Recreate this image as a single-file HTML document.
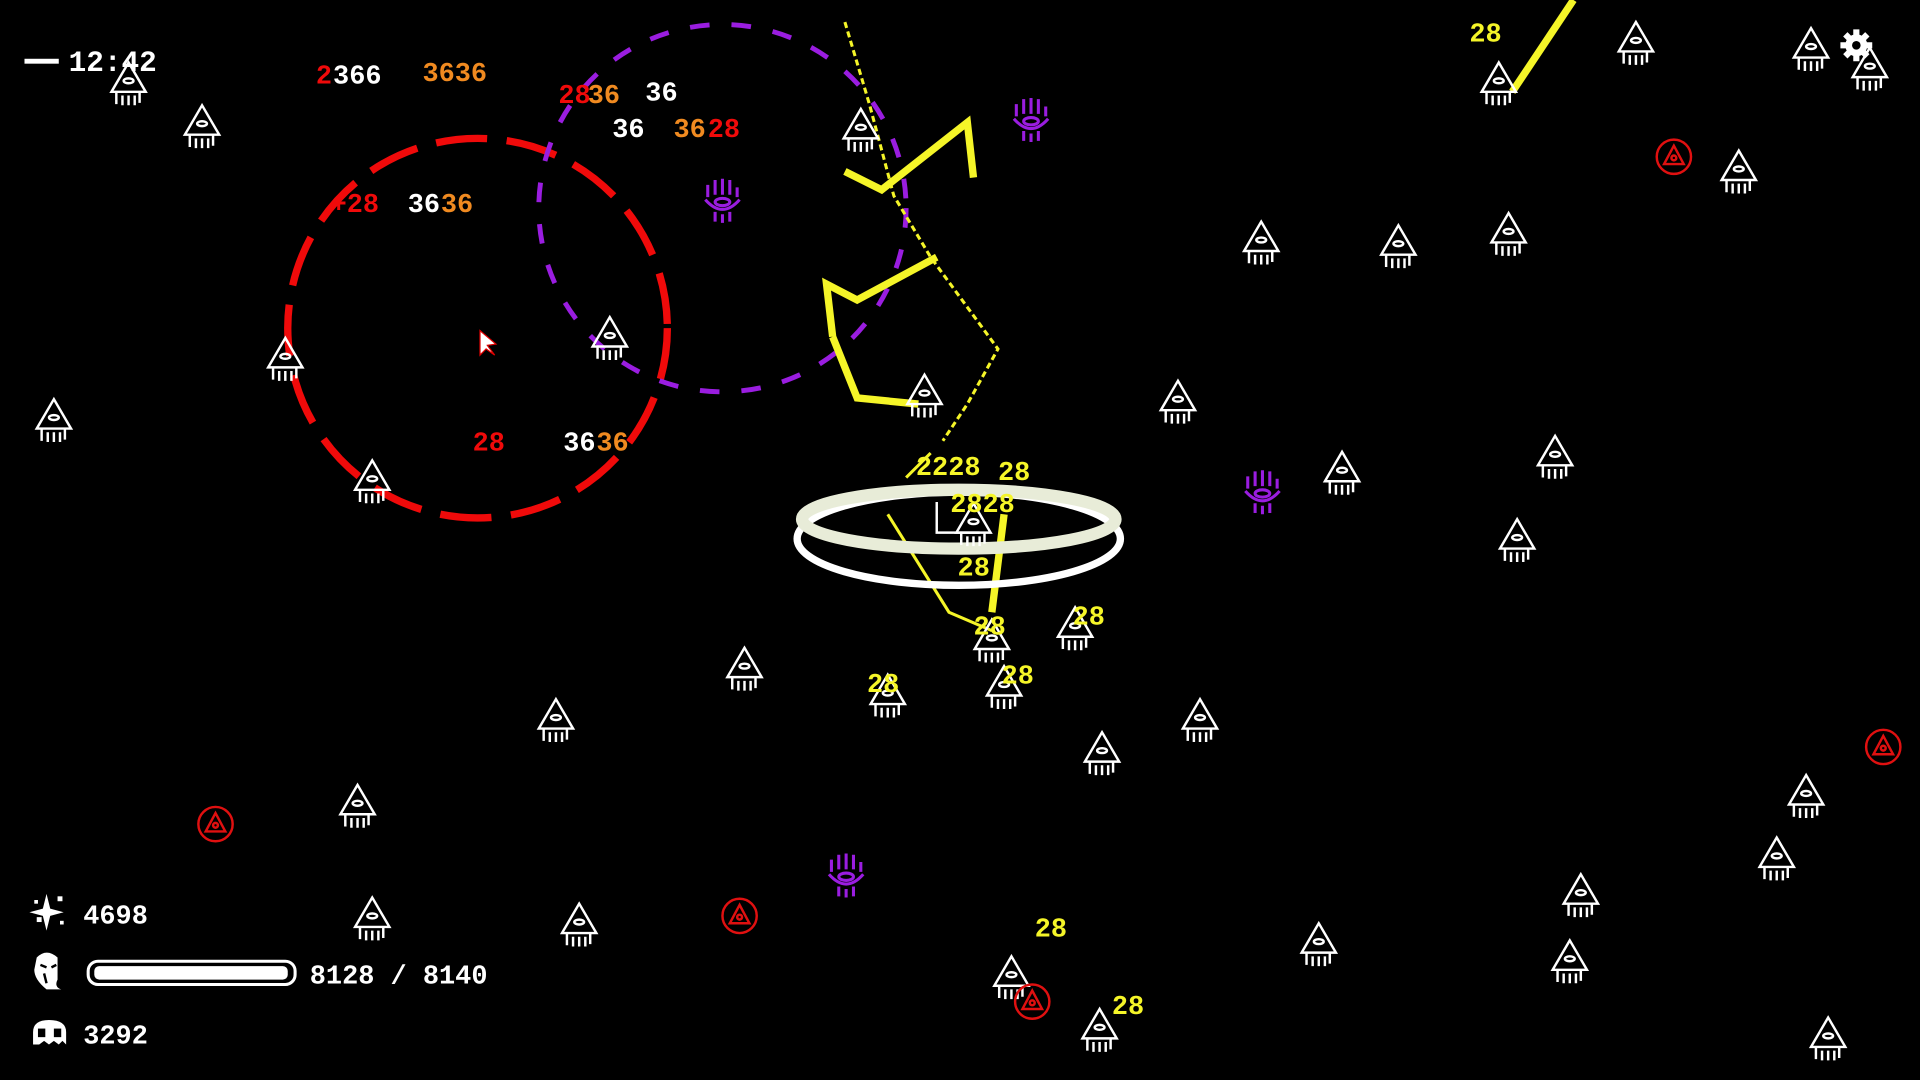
<!DOCTYPE html>
<html><head><style>
html,body{margin:0;padding:0;background:#000;width:1920px;height:1080px;overflow:hidden}
svg{display:block}
text{font-family:"Liberation Mono","DejaVu Sans Mono",monospace;font-weight:bold}
</style></head><body>
<svg width="1920" height="1080" viewBox="0 0 1568 882" xmlns="http://www.w3.org/2000/svg">
<defs>
<g id="e" fill="none" stroke="#fff" stroke-width="2">
<path d="M0,-19 L-14,5 L14,5 Z"/>
<ellipse cx="0" cy="-4" rx="4" ry="2"/>
<path d="M-10,5 L-10,15 M-5,8 L-5,16 M0,8 L0,16 M5,8 L5,16 M9,5 L9,14"/>
</g>
<g id="r" fill="none" stroke="#e01010" stroke-width="2">
<circle r="14"/><path d="M0,-9 L-8,6 L8,6 Z"/><circle r="2" cy="1"/>
</g>
<g id="h" fill="none" stroke="#9a1de0" stroke-width="2.5">
<path d="M-12,-2 L-12,-12 M-6,-4 L-6,-16 M0,-4 L0,-17 M6,-4 L6,-16 M12,-2 L12,-10 M-14,0 Q0,16 14,0"/>
<ellipse cx="0" cy="2" rx="6" ry="3"/><path d="M-6,10 L-6,18 M0,12 L0,19 M6,10 L6,18"/>
</g>
</defs>
<rect width="1568" height="882" fill="#000"/>
<circle cx="390" cy="268" r="155" fill="none" stroke="#f00a0a" stroke-width="6" stroke-dasharray="42 16"/>
<circle cx="590" cy="170" r="150" fill="none" stroke="#9a1de0" stroke-width="4" stroke-dasharray="16 18"/>
<g fill="none" stroke="#f5f528" stroke-linejoin="miter">
<path d="M690,18 L710,85 L730,160 L760,210 L815,285 L790,330 L770,360" stroke-width="2.5" stroke-dasharray="5 3"/>
<path d="M690,140 L720,155 L790,100 L795,145" stroke-width="6"/>
<path d="M680,275 L675,232 L700,245 L765,210 M680,275 L700,325 L750,330" stroke-width="6"/>
<path d="M740,390 L760,370 M725,420 L775,500 L810,515" stroke-width="2.5"/>
<path d="M820,420 L810,500" stroke-width="6"/>
<path d="M1235,75 L1285,0" stroke-width="6"/>
</g>
<ellipse cx="783" cy="440" rx="132" ry="38" fill="none" stroke="#fff" stroke-width="6"/>
<ellipse cx="783" cy="424" rx="128" ry="24" fill="none" stroke="#e8ecd8" stroke-width="10"/>
<path d="M765,410 L765,435 L800,435" fill="none" stroke="#fff" stroke-width="2"/>
<g>
<use href="#e" x="105" y="70"/><use href="#e" x="165" y="105"/><use href="#e" x="44" y="345"/><use href="#e" x="233" y="295"/>
<use href="#e" x="304" y="395"/><use href="#e" x="498" y="278"/><use href="#e" x="703" y="108"/><use href="#e" x="755" y="325"/>
<use href="#e" x="1030" y="200"/><use href="#e" x="1142" y="203"/><use href="#e" x="1232" y="193"/><use href="#e" x="962" y="330"/>
<use href="#e" x="1096" y="388"/><use href="#e" x="1270" y="375"/><use href="#e" x="1239" y="443"/><use href="#e" x="1336" y="37"/>
<use href="#e" x="1479" y="42"/><use href="#e" x="1527" y="58"/><use href="#e" x="1224" y="70"/><use href="#e" x="1420" y="142"/>
<use href="#e" x="608" y="548"/><use href="#e" x="454" y="590"/><use href="#e" x="292" y="660"/><use href="#e" x="304" y="752"/>
<use href="#e" x="473" y="757"/><use href="#e" x="725" y="570"/><use href="#e" x="810" y="525"/><use href="#e" x="878" y="515"/>
<use href="#e" x="820" y="563"/><use href="#e" x="900" y="617"/><use href="#e" x="980" y="590"/><use href="#e" x="826" y="800"/>
<use href="#e" x="898" y="843"/><use href="#e" x="1077" y="773"/><use href="#e" x="1291" y="733"/><use href="#e" x="1282" y="787"/>
<use href="#e" x="1475" y="652"/><use href="#e" x="1451" y="703"/><use href="#e" x="1493" y="850"/><use href="#e" x="795" y="430"/>
</g>
<use href="#r" x="1367" y="128"/><use href="#r" x="176" y="673"/><use href="#r" x="604" y="748"/><use href="#r" x="1538" y="610"/><use href="#r" x="843" y="818"/>
<use href="#h" x="842" y="97"/><use href="#h" x="590" y="163"/><use href="#h" x="1031" y="401"/><use href="#h" x="691" y="714"/>
<path d="M392,270 L392,290 L397,285 L404,290 L398,282 L405,281 Z" fill="#fff" stroke="#d00" stroke-width="1"/>
<g font-size="22">
<text x="258" y="68" fill="#f00a0a">2</text><text x="272" y="68" fill="#fff">366</text>
<text x="345" y="66" fill="#f08a20">3636</text>
<text x="456" y="84" fill="#f00a0a">28</text><text x="480" y="84" fill="#f08a20">36</text><text x="527" y="82" fill="#fff">36</text>
<text x="500" y="112" fill="#fff">36</text><text x="550" y="112" fill="#f08a20">36</text><text x="578" y="112" fill="#f00a0a">28</text>
<text x="270" y="173" fill="#f00a0a">+28</text><text x="333" y="173" fill="#fff">36</text><text x="360" y="173" fill="#f08a20">36</text>
<text x="386" y="368" fill="#f00a0a">28</text><text x="460" y="368" fill="#fff">36</text><text x="487" y="368" fill="#f08a20">36</text>
<g fill="#f5f528">
<text x="1200" y="34">28</text>
<text x="748" y="388">2228</text><text x="815" y="392">28</text>
<text x="776" y="418">2828</text>
<text x="782" y="470">28</text>
<text x="795" y="518">28</text><text x="876" y="510">28</text>
<text x="708" y="565">28</text><text x="818" y="558">28</text>
<text x="845" y="765">28</text><text x="908" y="828">28</text>
</g>
</g>
<rect x="20" y="48" width="28" height="4" fill="#fff"/>
<text x="56" y="58" font-size="24" fill="#fff">12:42</text>
<g transform="translate(1516,37)" fill="#fff"><circle r="9"/><g stroke="#fff" stroke-width="5"><path d="M0,-13 L0,13 M-13,0 L13,0 M-9,-9 L9,9 M-9,9 L9,-9"/></g><circle r="3.5" fill="#000"/></g>
<g fill="#fff">
<path d="M38,730 L41,742 L52,745 L41,748 L38,760 L35,748 L24,745 L35,742 Z"/>
<rect x="28" y="735" width="3" height="3"/><rect x="47" y="732" width="4" height="4"/><rect x="30" y="749" width="4" height="4"/><rect x="49" y="752" width="3" height="3"/>
</g>
<text x="68" y="754" font-size="22" fill="#fff">4698</text>
<path d="M30,782 Q38,774 47,782 L47,800 Q44,806 50,808 L38,808 Q28,800 28,792 Z" fill="#fff"/>
<path d="M33,788 L38,790 M42,790 L46,788 M36,795 L38,803" stroke="#000" stroke-width="2"/>
<rect x="72" y="785" width="169" height="19" rx="8" fill="none" stroke="#fff" stroke-width="2.5"/>
<rect x="77" y="789" width="158" height="11" rx="4" fill="#fff"/>
<text x="253" y="803" font-size="22" fill="#fff">8128 / 8140</text>
<path d="M27,843 Q27,833 40,833 Q54,833 54,843 L54,853 L51,850 L48,853 L44,850 L40,853 L36,850 L32,853 L27,853 Z" fill="#fff"/>
<rect x="31" y="840" width="6" height="7" fill="#000"/><rect x="44" y="840" width="6" height="7" fill="#000"/>
<text x="68" y="852" font-size="22" fill="#fff">3292</text>
</svg>
</body></html>
